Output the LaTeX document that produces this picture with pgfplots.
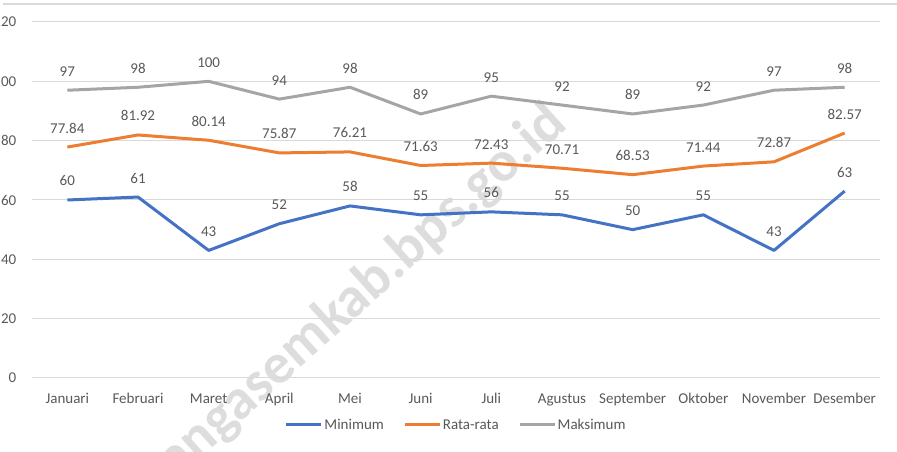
\documentclass[border=0pt]{standalone}
\usepackage{pgfplots}
\pgfplotsset{compat=1.18}
\usepackage{fontspec}
\setmainfont{Carlito}
\definecolor{cmin}{HTML}{4472C4}
\definecolor{cavg}{HTML}{ED7D31}
\definecolor{cmax}{HTML}{A5A5A5}
\definecolor{gridc}{HTML}{D9D9D9}
\definecolor{txt}{HTML}{595959}
\definecolor{wm}{HTML}{DDDDDD}
\newcommand{\lblfont}{\fontsize{15}{18}\selectfont}
\begin{document}
\begin{tikzpicture}
\node[rotate=42, text=wm, font=\fontsize{57}{62}\selectfont\bfseries, inner sep=0] at (284pt,44pt) {rembangasemkab.bps.go.id};
\begin{axis}[at={(0pt,0pt)}, anchor=south west, scale only axis,
  width=848pt, height=356pt,
  xmin=-0.5, xmax=11.5, ymin=0, ymax=120,
  ytick={0,20,...,120},
  xtick={0,...,11},
  xticklabels={Januari,Februari,Maret,April,Mei,Juni,Juli,Agustus,September,Oktober,November,Desember},
  axis line style={draw=none}, tick style={draw=none},
  ymajorgrids, grid style={gridc, line width=1pt},
  /pgf/number format/assume math mode=true,
  ticklabel style={font=\lblfont, text=txt},
  xticklabel style={anchor=base, inner sep=0pt, yshift=-25pt},
  yticklabel style={anchor=east, inner sep=0pt, xshift=-15.5pt},
  nodes near coords,
  nodes near coords style={font=\lblfont, text=txt, anchor=base, inner sep=0pt, yshift=14pt},
  legend columns=3,
  legend style={at={(0.5,-0.132)}, anchor=center, draw=none, font=\lblfont, text=txt,
    /tikz/every even column/.append style={column sep=18pt},
    nodes={inner sep=1.5pt}},
  legend image code/.code={\draw[#1, line width=3pt] (0pt,0pt) -- (35pt,0pt);},
  every axis plot/.append style={line width=3pt, line join=round, no markers},
]
\addplot[cmin] coordinates {(0,60) (1,61) (2,43) (3,52) (4,58) (5,55) (6,56) (7,55) (8,50) (9,55) (10,43) (11,63)};
\addlegendentry{Minimum}
\addplot[cavg] coordinates {(0,77.84) (1,81.92) (2,80.14) (3,75.87) (4,76.21) (5,71.63) (6,72.43) (7,70.71) (8,68.53) (9,71.44) (10,72.87) (11,82.57)};
\addlegendentry{Rata-rata}
\addplot[cmax] coordinates {(0,97) (1,98) (2,100) (3,94) (4,98) (5,89) (6,95) (7,92) (8,89) (9,92) (10,97) (11,98)};
\addlegendentry{Maksimum}
\end{axis}
\draw[gridc, line width=1.5pt] (-29pt,374pt) -- (865pt,374pt);
\pgfresetboundingbox
\useasboundingbox (-32pt,-74pt) rectangle (865pt,378pt);
\end{tikzpicture}
\end{document}
